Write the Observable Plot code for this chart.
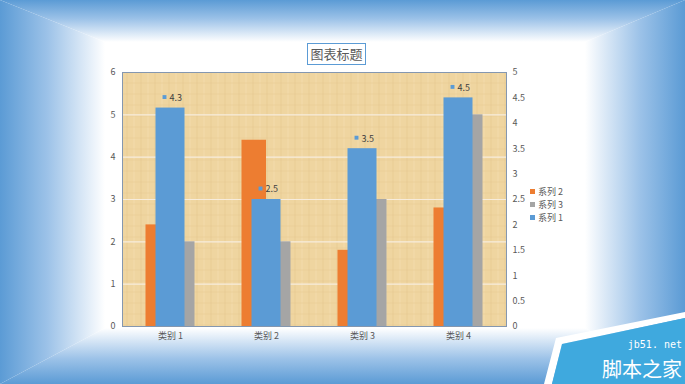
<!DOCTYPE html>
<html><head><meta charset="utf-8">
<script src="https://cdn.jsdelivr.net/npm/d3@7"></script>
<script src="https://cdn.jsdelivr.net/npm/@observablehq/plot@0.6"></script>
<style>
html,body{margin:0;padding:0;background:#fff;}
#wrap{position:relative;width:685px;height:384px;overflow:hidden;font-family:"Noto Sans CJK SC","Noto Sans",sans-serif;}
#wrap > *{position:absolute;left:0;top:0;}
#title{left:307px;top:43px;width:57px;height:20px;border:1px solid #5b9bd5;color:#595959;font-size:13px;line-height:20px;text-align:center;background:rgba(255,255,255,0.6);}
#legend{left:530px;top:185px;font-size:9px;color:#595959;line-height:13px;}
#legend div{white-space:nowrap;}
#legend span.k{display:inline-block;width:5px;height:5px;margin-right:3px;vertical-align:1px;}
</style></head>
<body>
<svg width="0" height="0" style="position:absolute">
  <defs>
    <pattern id="paper" patternUnits="userSpaceOnUse" width="14" height="11">
      <rect width="14" height="11" fill="#efd5a0"/>
      <rect x="0" y="0" width="1" height="11" fill="#e4c68c" opacity="0.6"/>
      <rect x="7" y="0" width="1" height="11" fill="#f5e0b4" opacity="0.6"/>
      <rect x="0" y="5" width="14" height="1" fill="#e6c890" opacity="0.5"/>
    </pattern>
  </defs>
</svg>
<div id="wrap"></div>
<script>
const categories = ["类别 1", "类别 2", "类别 3", "类别 4"];
const seriesNames = ["系列 2", "系列 3", "系列 1"];
const series2 = [2.4, 4.4, 1.8, 2.8];
const series3 = [2, 2, 3, 5];
const series1 = [4.3, 2.5, 3.5, 4.5];
const leftTicks = [0, 1, 2, 3, 4, 5, 6];
const rightTicks = [0, 0.5, 1, 1.5, 2, 2.5, 3, 3.5, 4, 4.5, 5];
const leftMax = 6, rightMax = 5;
const colors = {"系列 2": "#ed7d31", "系列 3": "#a5a5a5", "系列 1": "#5b9bd5"};

const wrap = document.getElementById("wrap");
const W = 685, H = 384;

// background rectangular gradient
const bg = d3.create("svg").attr("width", W).attr("height", H);
const defs = bg.append("defs");
const L = 105, T = 42, R = 585, B = 328;
const grads = [
  {id: "gt", x1: 0, y1: 0, x2: 0, y2: 1, pts: [[0,0],[W,0],[R,T],[L,T]]},
  {id: "gb", x1: 0, y1: 1, x2: 0, y2: 0, pts: [[0,H],[W,H],[R,B],[L,B]]},
  {id: "gl", x1: 0, y1: 0, x2: 1, y2: 0, pts: [[0,0],[0,H],[L,B],[L,T]]},
  {id: "gr", x1: 1, y1: 0, x2: 0, y2: 0, pts: [[W,0],[W,H],[R,B],[R,T]]}
];
for (const g of grads) {
  const lg = defs.append("linearGradient").attr("id", g.id)
    .attr("x1", g.x1).attr("y1", g.y1).attr("x2", g.x2).attr("y2", g.y2);
  lg.append("stop").attr("offset", 0).attr("stop-color", "#5b9bd5");
  lg.append("stop").attr("offset", 0.45).attr("stop-color", "#9cc2e8");
  lg.append("stop").attr("offset", 1).attr("stop-color", "#ffffff");
  bg.append("polygon").attr("points", g.pts.map(p => p.join(",")).join(" ")).attr("fill", `url(#${g.id})`);
}
bg.append("rect").attr("x", L).attr("y", T).attr("width", R - L).attr("height", B - T).attr("fill", "#fff");
wrap.appendChild(bg.node());

const rows2 = categories.map((c, i) => ({cat: c, v: series2[i]}));
const rows3 = categories.map((c, i) => ({cat: c, v: series3[i]}));
const rows1 = categories.map((c, i) => ({cat: c, v: series1[i]}));
const k = leftMax / rightMax;

const chart = Plot.plot({
  width: W, height: H,
  marginLeft: 122, marginRight: 179, marginTop: 72, marginBottom: 58,
  x: {domain: categories, padding: 0, axis: null},
  y: {domain: [0, leftMax], axis: null},
  style: {background: "transparent", fontFamily: "'Noto Sans CJK SC', sans-serif", fontSize: "9px", color: "#595959"},
  marks: [
    Plot.frame({fill: "url(#paper)"}),
    Plot.ruleY(leftTicks.slice(1, -1), {stroke: "#f7ecdc", strokeWidth: 1.2}),
    Plot.barY(rows2, {x: "cat", y: "v", fill: colors["系列 2"], insetLeft: 23.5, insetRight: 48}),
    Plot.barY(rows3, {x: "cat", y: "v", fill: colors["系列 3"], insetLeft: 48, insetRight: 23.5}),
    Plot.barY(rows1, {x: "cat", y: d => d.v * k, fill: colors["系列 1"], insetLeft: 33.5, insetRight: 33.5}),
    Plot.frame({stroke: "#8497b0", strokeWidth: 1}),
    Plot.axisY(leftTicks, {anchor: "left", tickSize: 0, tickPadding: 7, label: null}),
    Plot.axisY(rightTicks.map(t => t * k), {anchor: "right", tickSize: 0, tickPadding: 6, label: null,
      tickFormat: d => String(Math.round(d / k * 10) / 10)}),
    Plot.axisX({tickSize: 0, tickPadding: 6, label: null}),
    Plot.dot(rows1, {x: "cat", y: d => d.v * k, symbol: "square", r: 2.2, fill: colors["系列 1"], stroke: null, dx: -6, dy: -11}),
    Plot.text(rows1, {x: "cat", y: d => d.v * k, text: d => String(d.v), dx: -1, dy: -10, textAnchor: "start", fill: "#404040"})
  ]
});
wrap.appendChild(chart);

const title = document.createElement("div");
title.id = "title";
title.textContent = "图表标题";
wrap.appendChild(title);

const legend = document.createElement("div");
legend.id = "legend";
legend.innerHTML = seriesNames.map(n => `<div><span class="k" style="background:${colors[n]}"></span>${n}</div>`).join("");
wrap.appendChild(legend);

// watermark decoration
const wm = d3.create("svg").attr("width", W).attr("height", H);
wm.append("polygon").attr("points", "544,384 556,338 685,312 685,318 562,344 552,384").attr("fill", "#ffffff");
wm.append("polygon").attr("points", "552,384 562,344 685,318 685,384").attr("fill", "#3fa9de");
wm.append("text").attr("x", 682).attr("y", 348).attr("text-anchor", "end").attr("fill", "#fff")
  .attr("font-family", "DejaVu Sans Mono, monospace").attr("font-size", 10).text("jb51. net");
wm.append("text").attr("x", 682).attr("y", 377).attr("text-anchor", "end").attr("fill", "#fff")
  .attr("font-family", "Noto Sans CJK SC").attr("font-size", 20).text("脚本之家");
wrap.appendChild(wm.node());
</script>
</body></html>
